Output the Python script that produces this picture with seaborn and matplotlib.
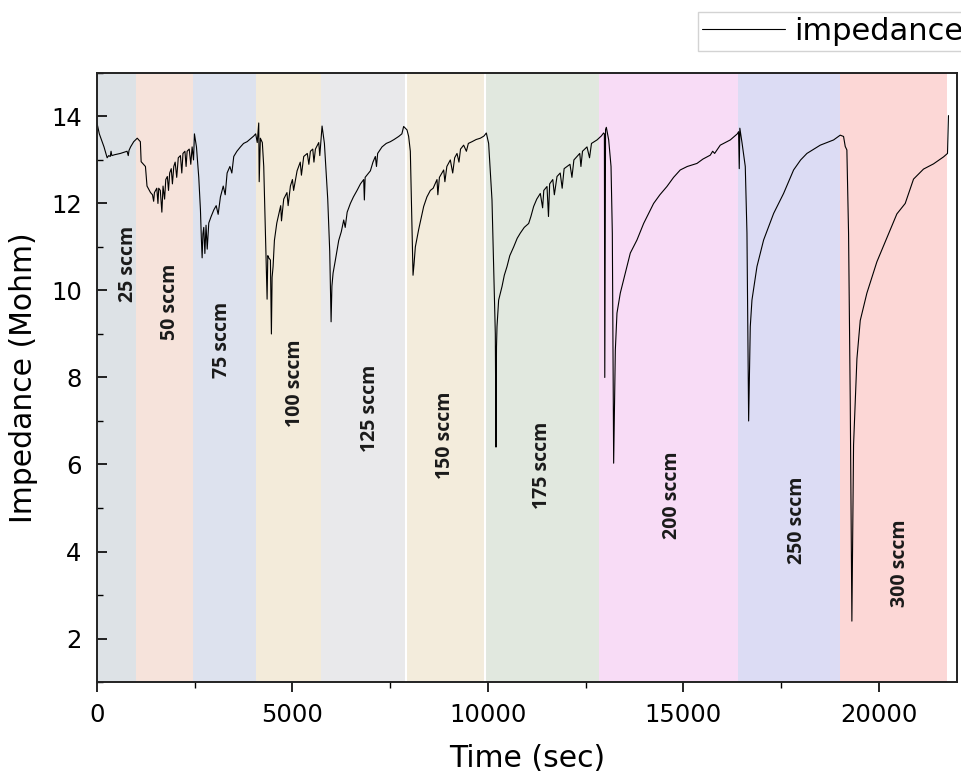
import pandas as pd
import seaborn as sns
import matplotlib.pyplot as plt
from matplotlib.ticker import MultipleLocator

# impedance trace (time in sec, impedance in Mohm)
time_s = [
    0, 60, 120, 180, 260, 300, 340, 360, 380, 450, 600, 700, 770, 800, 820, 860, 940, 1030, 1110,
    1130, 1240, 1280, 1370, 1420, 1450, 1470, 1530, 1560, 1580, 1620, 1660, 1690, 1730, 1760, 1800,
    1830, 1860, 1900, 1930, 1965, 2000, 2040, 2080, 2135, 2170, 2200, 2250, 2280, 2306, 2360, 2400,
    2434, 2470, 2493, 2545,
    2604, 2647, 2670, 2690, 2710, 2732, 2760, 2790, 2820, 2860, 2920, 2988, 3050, 3100, 3158, 3230,
    3280, 3329, 3400, 3450, 3499, 3580, 3670, 3750, 3841, 3920, 4010, 4060, 4100, 4138,
    4150, 4180, 4230, 4266, 4309, 4352, 4370, 4394, 4437, 4450, 4462, 4480, 4505, 4539, 4600, 4650,
    4700, 4720, 4777, 4860, 4890, 4948, 5000, 5030, 5119, 5200, 5230, 5289, 5380, 5420, 5460, 5520,
    5550, 5588, 5673, 5700, 5758,
    5818, 5903, 5954, 5989, 6010, 6040, 6099, 6184, 6250, 6312, 6350, 6400, 6482, 6560, 6653, 6740,
    6823, 6840, 6860, 6994, 7060, 7121, 7150, 7180, 7292, 7400, 7505, 7600, 7718, 7800, 7845,
    7931, 7973, 8016, 8034, 8085, 8110, 8144, 8229, 8357, 8440, 8528, 8600, 8698, 8720, 8760, 8869,
    8900, 8950, 9039, 9100, 9150, 9210, 9260, 9300, 9380, 9450, 9500, 9594, 9700, 9807, 9900, 9960,
    10019, 10105, 10150, 10190, 10207, 10220, 10233, 10275, 10361, 10420, 10489, 10560, 10659, 10750,
    10830, 10930, 11043, 11100, 11170, 11250, 11341, 11400, 11430, 11512, 11550, 11580, 11660, 11700,
    11768, 11850, 11900, 11950, 12023, 12100, 12150, 12200, 12279, 12350, 12380, 12420, 12535, 12600,
    12650, 12791, 12900, 12960,
    12980, 12990, 13010, 13030, 13090, 13150, 13183, 13217, 13260, 13302, 13387, 13515, 13643, 13813,
    13984, 14100, 14239, 14400, 14580, 14750, 14921, 15100, 15348, 15500, 15688, 15750, 15800, 15944,
    16200, 16380, 16413,
    16430, 16445, 16500, 16584, 16627, 16670, 16712, 16755, 16883, 17053, 17309, 17564, 17820, 18000,
    18161, 18502, 18843, 19013, 19098, 19141, 19183,
    19226, 19269, 19311, 19354, 19440, 19525, 19695, 19951, 20206, 20462, 20675, 20888, 21143, 21399,
    21655, 21757, 21782,
]
impedance = [
    13.85, 13.6, 13.45, 13.3, 13.05, 13.1, 13.08, 13.2, 13.1, 13.12, 13.15, 13.18, 13.2, 13.1, 13.22, 13.3, 13.42, 13.5, 13.42,
    12.96, 12.85, 12.4, 12.25, 12.2, 12.05, 12.25, 12.35, 12.0, 12.35, 12.3, 11.8, 12.4, 12.1, 12.55, 12.62,
    12.3, 12.7, 12.8, 12.45, 12.85, 12.95, 12.6, 13.05, 13.1, 12.7, 13.15, 13.2, 12.85, 13.2, 13.25, 12.9,
    13.3, 13.0, 13.6, 13.3,
    12.6, 11.85, 11.2, 10.75, 11.3, 11.45, 10.85, 11.5, 10.95, 11.55, 11.7, 11.85, 11.95, 11.75, 12.15, 12.4,
    12.2, 12.7, 12.85, 12.7, 13.08, 13.2, 13.3, 13.38, 13.42, 13.48, 13.55, 13.6, 13.4, 13.85,
    12.5, 13.5, 13.4, 12.85, 11.3, 9.8, 10.8, 10.75, 10.7, 9.9, 9.0, 10.3, 10.55, 11.15, 11.55, 11.75,
    11.95, 11.6, 12.1, 12.25, 11.95, 12.4, 12.55, 12.3, 12.75, 12.95, 12.65, 13.08, 13.15, 12.9, 13.2, 13.25,
    12.95, 13.25, 13.4, 13.1, 13.78,
    13.38, 12.1, 10.9, 9.28, 10.1, 10.4, 10.7, 11.15, 11.35, 11.62, 11.45, 11.8, 12.0, 12.15, 12.3, 12.45,
    12.55, 12.08, 12.6, 12.75, 12.95, 13.08, 12.85, 13.15, 13.3, 13.38, 13.42, 13.47, 13.54, 13.6, 13.77,
    13.69, 13.54, 13.2, 12.45, 10.35, 10.6, 11.0, 11.4, 11.93, 12.15, 12.3, 12.35, 12.55, 12.2, 12.6, 12.77,
    12.5, 12.85, 13.0, 12.7, 13.05, 13.15, 12.95, 13.25, 13.34, 13.2, 13.38, 13.42, 13.47, 13.5, 13.55, 13.62,
    13.38, 12.08, 10.5, 9.0, 6.4, 8.7, 9.17, 9.78, 10.09, 10.35, 10.55, 10.8, 11.0, 11.2,
    11.32, 11.45, 11.54, 11.7, 11.93, 12.1, 12.23, 11.9, 12.3, 12.39, 11.7, 12.45, 12.55, 12.2,
    12.62, 12.7, 12.35, 12.8, 12.85, 12.9, 12.6, 13.0, 13.08, 13.15, 12.85, 13.2, 13.3, 13.05,
    13.38, 13.46, 13.55, 13.62,
    13.6, 8.0, 13.7, 13.75, 13.46, 12.85, 11.32, 6.03, 8.63, 9.48, 9.94, 10.4, 10.86, 11.16,
    11.54, 11.75, 12.0, 12.2, 12.39, 12.6, 12.77, 12.85, 12.92, 13.02, 13.11, 13.2, 13.15, 13.34,
    13.46, 13.6, 13.65,
    12.8, 13.73, 13.4, 12.85, 11.32, 7.0, 9.17, 9.78, 10.55, 11.16, 11.77, 12.23, 12.77, 13.0,
    13.15, 13.34, 13.46, 13.57, 13.54, 13.31, 13.23,
    11.32, 7.48, 2.4, 6.45, 8.43, 9.31, 9.94, 10.66, 11.21, 11.76, 12.0, 12.56, 12.79, 12.91,
    13.07, 13.15, 14.02,
]

# gas flow steps: start/end time of each step and its label
step_edges = [0, 987, 2445, 4056, 5719, 7917, 9937, 12841, 16410, 19018, 21755]
step_labels = ["25 sccm", "50 sccm", "75 sccm", "100 sccm", "125 sccm", "150 sccm",
               "175 sccm", "200 sccm", "250 sccm", "300 sccm"]
step_colors = ["#dde2e6", "#f6e3db", "#dde2ee", "#f3ebda", "#e9e9eb", "#f3ecdc",
               "#e1e8df", "#f8dcf6", "#dcdcf4", "#fcd7d6"]
# where the rotated labels sit (data coords)
label_xy = [(793, 10.6), (1867, 9.74), (3197, 8.86), (5064, 7.87), (6982, 7.3),
            (8900, 6.68), (11381, 5.99), (14706, 5.3), (17903, 4.72), (20537, 3.74)]

df = pd.DataFrame({"Time (sec)": time_s, "Impedance (Mohm)": impedance})

sns.set_theme(style="ticks")
plt.rcParams["font.family"] = ["DejaVu Sans"]
plt.rcParams.update({"text.color": "black", "axes.labelcolor": "black",
                     "xtick.color": "black", "ytick.color": "black"})

fig = plt.figure(figsize=(9.62, 7.76), dpi=100)
ax = fig.add_axes([0.1008, 0.1211, 0.8940, 0.7849])

for i, c in enumerate(step_colors):
    ax.axvspan(step_edges[i], step_edges[i + 1], color=c, lw=0, zorder=0)
for t in (step_edges[5], step_edges[6]):
    ax.axvline(t, color="white", lw=1.5, zorder=0.5)

sns.lineplot(data=df, x="Time (sec)", y="Impedance (Mohm)", ax=ax, color="black",
             lw=0.8, estimator=None, sort=False, label="impedance")

for lab, (x, y) in zip(step_labels, label_xy):
    ax.text(x, y, lab, rotation=90, ha="center", va="center", fontsize=14,
            fontweight="bold", family="Open Sans", color="#1a1a1a")

ax.set_xlim(0, 22000)
ax.set_ylim(1, 15)
ax.xaxis.set_major_locator(MultipleLocator(5000))
ax.xaxis.set_minor_locator(MultipleLocator(2500))
ax.yaxis.set_major_locator(MultipleLocator(2))
ax.yaxis.set_minor_locator(MultipleLocator(1))
ax.tick_params(axis="x", which="major", direction="out", length=7, width=1.2, labelsize=17.5, pad=8)
ax.tick_params(axis="x", which="minor", direction="out", length=4, width=1.0)
ax.tick_params(axis="y", which="major", direction="in", length=7, width=1.2, labelsize=17.5, pad=11)
ax.tick_params(axis="y", which="minor", direction="in", length=4, width=1.0)
for s in ax.spines.values():
    s.set_linewidth(1.4)
    s.set_color("#222222")
ax.set_xlabel("Time (sec)", fontsize=21.5, labelpad=12)
ax.set_ylabel("Impedance (Mohm)", fontsize=21.5, labelpad=9)

h, l = ax.get_legend_handles_labels()
ax.get_legend().remove()
fig.legend(h, l, loc="upper right", bbox_to_anchor=(1.006, 0.984), fontsize=22,
           frameon=True, fancybox=False, edgecolor="#c8c8c8", handlelength=2.7,
           handletextpad=0.3, borderpad=0.15, borderaxespad=0)

fig.savefig("out.png", dpi=100)
